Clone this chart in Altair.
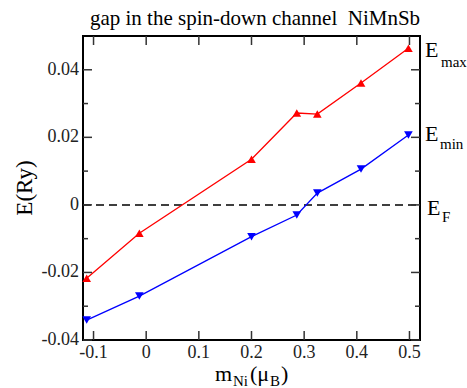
import altair as alt
import pandas as pd

# ---- data ----
m_ni = [-0.113, -0.013, 0.2, 0.286, 0.325, 0.408, 0.498]
e_max = [-0.0217, -0.0084, 0.0135, 0.0272, 0.0269, 0.0361, 0.0464]
e_min = [-0.0341, -0.0270, -0.0094, -0.0030, 0.0035, 0.0106, 0.0207]

x_ticks = [-0.1, 0.0, 0.1, 0.2, 0.3, 0.4, 0.5]
x_tick_labels = ["-0.1", "0", "0.1", "0.2", "0.3", "0.4", "0.5"]
y_major = [-0.04, -0.02, 0.0, 0.02, 0.04]
y_tick_labels = ["-0.04", "-0.02", "0", "0.02", "0.04"]
y_minor = [-0.03, -0.01, 0.01, 0.03]
fermi = [0.0]

X_DOMAIN = [-0.12, 0.52]
Y_DOMAIN = [-0.04, 0.05]
W, H = 337, 304
FONT = "Liberation Serif"

df = pd.DataFrame({"m": m_ni, "emax": e_max, "emin": e_min})
xt_df = pd.DataFrame({"v": x_ticks, "lab": x_tick_labels})
yM_df = pd.DataFrame({"v": y_major, "lab": y_tick_labels})
ym_df = pd.DataFrame({"v": y_minor})

xs = alt.Scale(domain=X_DOMAIN, nice=False, zero=False)
ys = alt.Scale(domain=Y_DOMAIN, nice=False, zero=False)


def X(f):
    return alt.X(f, type="quantitative", scale=xs, axis=None)


def Y(f):
    return alt.Y(f, type="quantitative", scale=ys, axis=None)


base = alt.Chart(df)

red_line = base.mark_line(color="#ff0000", strokeWidth=1.3).encode(x=X("m"), y=Y("emax"))
red_pts = base.mark_point(shape="triangle-up", filled=True, color="#ff0000", size=75,
                          opacity=1).encode(x=X("m"), y=Y("emax"))
blue_line = base.mark_line(color="#0000ff", strokeWidth=1.3).encode(x=X("m"), y=Y("emin"))
blue_pts = base.mark_point(shape="triangle-down", filled=True, color="#0000ff", size=75,
                           opacity=1).encode(x=X("m"), y=Y("emin"))

fermi_line = alt.Chart(pd.DataFrame({"y": fermi})).mark_rule(
    color="black", strokeWidth=1.5, strokeDash=[8, 5]).encode(
    y=Y("y"), x=alt.value(0), x2=alt.value(W))

tick_col = "#333"
xt = alt.Chart(xt_df)
xt_bottom = xt.mark_rule(color=tick_col, strokeWidth=1.5).encode(
    x=X("v"), y=alt.value(H), y2=alt.value(H - 9))
xt_top = xt.mark_rule(color=tick_col, strokeWidth=1.5).encode(
    x=X("v"), y=alt.value(0), y2=alt.value(9))
xt_lab = xt.mark_text(font=FONT, fontSize=18, color="#222", align="center",
                      baseline="alphabetic").encode(x=X("v"), y=alt.value(H + 18), text="lab:N")
ytM = alt.Chart(yM_df)
ytm = alt.Chart(ym_df)
yt_lM = ytM.mark_rule(color=tick_col, strokeWidth=1.5).encode(
    y=Y("v"), x=alt.value(0), x2=alt.value(9))
yt_rM = ytM.mark_rule(color=tick_col, strokeWidth=1.5).encode(
    y=Y("v"), x=alt.value(W), x2=alt.value(W - 9))
yt_lab = ytM.mark_text(font=FONT, fontSize=18, color="#222", align="right",
                       baseline="middle").encode(y=Y("v"), x=alt.value(-4), text="lab:N")
yt_lm = ytm.mark_rule(color=tick_col, strokeWidth=1.5).encode(
    y=Y("v"), x=alt.value(0), x2=alt.value(5))
yt_rm = ytm.mark_rule(color=tick_col, strokeWidth=1.5).encode(
    y=Y("v"), x=alt.value(W), x2=alt.value(W - 5))


def txt(s, x, y, size, align="left", baseline="alphabetic", angle=0):
    kw = dict(text=s, font=FONT, fontSize=size, align=align, baseline=baseline, color="black")
    if angle:
        kw["angle"] = angle
    return alt.Chart(df.head(1)).mark_text(**kw).encode(x=alt.value(x), y=alt.value(y))


annots = [
    txt("gap in the spin-down channel\u00a0\u00a0NiMnSb", 172, -11, 21, align="center"),
    txt("E(Ry)", -58, 152, 23, align="center", baseline="middle", angle=270),
    txt("m", 132, 345, 22), txt("Ni", 150, 350, 15),
    txt("(\u03bc", 167, 345, 22), txt("B", 187, 350, 15), txt(")", 198, 345, 22),
    txt("E", 342, 21, 22), txt("max", 358, 31, 15),
    txt("E", 342, 105, 22), txt("min", 357, 113, 15),
    txt("E", 344, 179, 22), txt("F", 359, 186, 15),
]

layers = [fermi_line, red_line, blue_line, red_pts, blue_pts,
          xt_bottom, xt_top, yt_lM, yt_rM, yt_lm, yt_rm, xt_lab, yt_lab] + annots

chart = alt.layer(*layers).properties(
    width=W, height=H,
    autosize=alt.AutoSizeParams(type="none"),
    padding={"left": 83, "top": 36, "right": 47, "bottom": 48},
    background="white",
).configure_view(stroke="black", strokeWidth=2)

chart.save("out.html", embed_options={"renderer": "svg", "actions": False})
